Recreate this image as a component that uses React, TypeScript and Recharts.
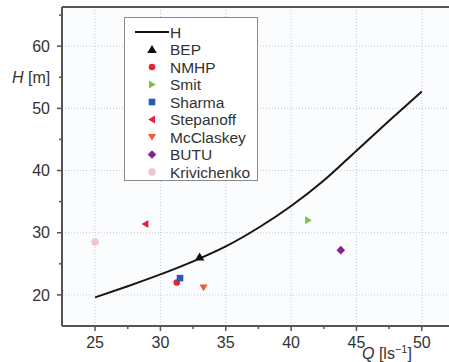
import { ComposedChart, Line, Scatter, XAxis, YAxis, CartesianGrid, ReferenceLine } from "recharts";

// pump head curve H(Q)
const curveQ = [25, 27.5, 30, 32.5, 35, 37.5, 40, 42.5, 45, 47.5, 50];
const curveH = [19.6, 21.4, 23.3, 25.4, 27.8, 30.8, 34.3, 38.4, 43.2, 48.0, 52.7];

// best efficiency point and the turbine-mode predictions
const bep = [{ q: 33.0, h: 26.1 }];
const nmhp = [{ q: 31.25, h: 22.0 }];
const smit = [{ q: 41.3, h: 32.0 }];
const sharma = [{ q: 31.5, h: 22.7 }];
const stepanoff = [{ q: 28.85, h: 31.4 }];
const mcclaskey = [{ q: 33.3, h: 21.2 }];
const butu = [{ q: 43.8, h: 27.2 }];
const krivichenko = [{ q: 25.0, h: 28.5 }];

const qTicks = [25, 27.5, 30, 32.5, 35, 37.5, 40, 42.5, 45, 47.5, 50];
const hTicks = [20, 25, 30, 35, 40, 45, 50, 55, 60, 65];
const qGrid = [25, 30, 35, 40, 45, 50];
const hGrid = [20, 30, 40, 50, 60];
const Q_MIN = 22.47;
const Q_MAX = 52.08;
const H_MIN = 15;
const H_MAX = 66.3;

const curve = curveQ.map((q, i) => ({ q, h: curveH[i] }));

type Kind = "up" | "down" | "left" | "right" | "circle" | "square" | "diamond";

const points: { name: string; data: { q: number; h: number }[]; kind: Kind; color: string; r?: number }[] = [
  { name: "BEP", data: bep, kind: "up", color: "#111111" },
  { name: "NMHP", data: nmhp, kind: "circle", color: "#e3262d" },
  { name: "Smit", data: smit, kind: "right", color: "#7cc04a" },
  { name: "Sharma", data: sharma, kind: "square", color: "#2b58b5" },
  { name: "Stepanoff", data: stepanoff, kind: "left", color: "#e2203f" },
  { name: "McClaskey", data: mcclaskey, kind: "down", color: "#ef5a2f" },
  { name: "BUTU", data: butu, kind: "diamond", color: "#8a1f8e" },
  { name: "Krivichenko", data: krivichenko, kind: "circle", color: "#f2c4d2", r: 3.8 },
];

const FONT = '"Liberation Sans", Arial, Helvetica, sans-serif';
const AXIS = "#555";
const TEXT = "#333";

function Marker({ kind, color, cx, cy, r = 3.3 }: { kind: Kind; color: string; cx: number; cy: number; r?: number }) {
  switch (kind) {
    case "up":
      return <polygon points={`${cx},${cy - 4.5} ${cx + 4.8},${cy + 3.5} ${cx - 4.8},${cy + 3.5}`} fill={color} />;
    case "down":
      return <polygon points={`${cx - 4},${cy - 3} ${cx + 4},${cy - 3} ${cx},${cy + 3.8}`} fill={color} />;
    case "left":
      return <polygon points={`${cx - 3.8},${cy} ${cx + 3},${cy - 4} ${cx + 3},${cy + 4}`} fill={color} />;
    case "right":
      return <polygon points={`${cx + 3.8},${cy} ${cx - 3},${cy - 4} ${cx - 3},${cy + 4}`} fill={color} />;
    case "square":
      return <rect x={cx - 3.3} y={cy - 3.3} width={6.6} height={6.6} fill={color} />;
    case "diamond":
      return <polygon points={`${cx},${cy - 4.3} ${cx + 4.3},${cy} ${cx},${cy + 4.3} ${cx - 4.3},${cy}`} fill={color} />;
    default:
      return <circle cx={cx} cy={cy} r={r} fill={color} />;
  }
}

const XTick = ({ x, y, payload }: any) => {
  const major = payload.value % 5 === 0;
  return (
    <g>
      <line x1={x} x2={x} y1={y} y2={y + (major ? 5 : 3)} stroke={AXIS} strokeWidth={1.5} />
      {major && (
        <text x={x} y={y + 21.5} textAnchor="middle" fontSize={16} fill={TEXT} fontFamily={FONT}>
          {payload.value}
        </text>
      )}
    </g>
  );
};

const YTick = ({ x, y, payload }: any) => {
  const major = payload.value % 10 === 0;
  return (
    <g>
      <line x1={x - (major ? 5 : 3)} x2={x} y1={y} y2={y} stroke={AXIS} strokeWidth={1.5} />
      {major && (
        <text x={x - 12} y={y} dy="0.36em" textAnchor="end" fontSize={16} fill={TEXT} fontFamily={FONT}>
          {payload.value}
        </text>
      )}
    </g>
  );
};

function LegendBox() {
  const rowH = 17.5;
  return (
    <div
      style={{
        position: "absolute",
        left: 124,
        top: 17,
        width: 134,
        height: 164,
        boxSizing: "border-box",
        border: "1.5px solid #8a8a8a",
        background: "#ffffff",
      }}
    >
      <svg width={131} height={161} style={{ position: "absolute", left: 0, top: 0, overflow: "visible" }}>
        <line x1={10} x2={44} y1={14} y2={14} stroke="#111" strokeWidth={2} />
        <text x={45} y={14} dy="0.36em" fontSize={15.5} fill={TEXT} fontFamily={FONT}>
          H
        </text>
        {points.map((p, i) => {
          const cy = 14 + rowH * (i + 1);
          return (
            <g key={p.name}>
              <Marker kind={p.kind} color={p.color} cx={27} cy={cy} r={p.r} />
              <text x={45} y={cy} dy="0.36em" fontSize={15.5} fill={TEXT} fontFamily={FONT}>
                {p.name}
              </text>
            </g>
          );
        })}
      </svg>
    </div>
  );
}

export default function App() {
  return (
    <div style={{ position: "absolute", left: 0, top: 0, width: 449, height: 362, background: "#fff", overflow: "hidden" }}>
      <ComposedChart width={449} height={362} margin={{ top: 7, right: 0, bottom: 0, left: 0 }}>
        <CartesianGrid
          fill="#fbfcfe"
          stroke="#c4c8ce"
          strokeDasharray="1 2"
          horizontalValues={hGrid}
          verticalValues={qGrid}
        />
        <XAxis
          type="number"
          dataKey="q"
          domain={[Q_MIN, Q_MAX]}
          allowDataOverflow
          ticks={qTicks}
          interval={0}
          height={36}
          tickSize={0}
          tickMargin={0}
          tickLine={false}
          tick={<XTick />}
          axisLine={{ stroke: AXIS, strokeWidth: 2 }}
          label={{
            content: ({ viewBox }: any) => (
              <text x={viewBox.x + 300} y={viewBox.y + 33} fontSize={16} fill={TEXT} fontFamily={FONT}>
                <tspan fontStyle="italic">Q</tspan>
                <tspan> [ls</tspan>
                <tspan fontSize={11} dy={-6}>−1</tspan>
                <tspan dy={6}>]</tspan>
              </text>
            ),
          }}
        />
        <YAxis
          type="number"
          dataKey="h"
          domain={[H_MIN, H_MAX]}
          allowDataOverflow
          ticks={hTicks}
          interval={0}
          width={62}
          tickSize={0}
          tickMargin={0}
          tickLine={false}
          tick={<YTick />}
          axisLine={{ stroke: AXIS, strokeWidth: 2 }}
          label={{
            content: ({ viewBox }: any) => (
              <text x={viewBox.x + 12} y={viewBox.y + 70} dy="0.36em" fontSize={16} fill={TEXT} fontFamily={FONT}>
                <tspan fontStyle="italic">H</tspan>
                <tspan> [m]</tspan>
              </text>
            ),
          }}
        />
        <ReferenceLine y={H_MAX} stroke={AXIS} strokeWidth={2} ifOverflow="visible" />
        <Line
          data={curve}
          dataKey="h"
          type="monotone"
          stroke="#151515"
          strokeWidth={2}
          dot={false}
          isAnimationActive={false}
        />
        {points.map((p) => (
          <Scatter
            key={p.name}
            name={p.name}
            data={p.data}
            dataKey="h"
            isAnimationActive={false}
            shape={(props: any) => <Marker kind={p.kind} color={p.color} cx={props.cx} cy={props.cy} r={p.r} />}
          />
        ))}
      </ComposedChart>
      <LegendBox />
    </div>
  );
}
